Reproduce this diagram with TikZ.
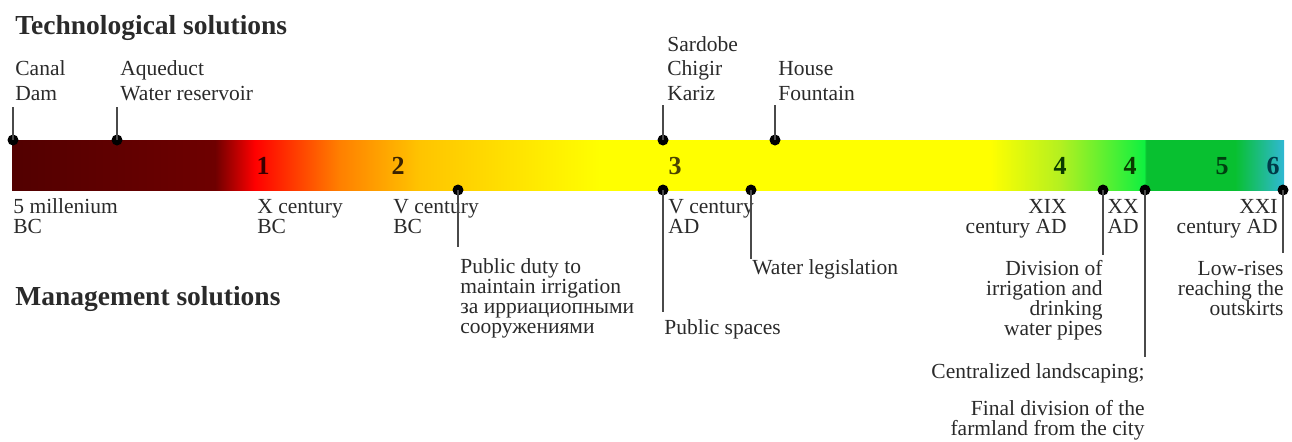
\documentclass[tikz,border=0pt]{standalone}
\usepackage{fontspec}
\setmainfont{Liberation Serif}
\definecolor{txt}{HTML}{2A2A2A}
\definecolor{lin}{HTML}{4A4A4A}
\definecolor{cA}{HTML}{520000}
\definecolor{cB}{HTML}{6E0000}
\definecolor{cC}{HTML}{FF0000}
\definecolor{cD}{HTML}{FF8000}
\definecolor{cE}{HTML}{FFC400}
\definecolor{cF}{HTML}{FFFF00}
\definecolor{cG}{HTML}{B4F020}
\definecolor{cH}{HTML}{10F040}
\definecolor{cI}{HTML}{08C030}
\definecolor{cJ}{HTML}{30B8D4}
\definecolor{n1}{HTML}{3A0000}
\definecolor{n2}{HTML}{3A2200}
\definecolor{n3}{HTML}{4A4200}
\definecolor{n4}{HTML}{0A3A00}
\definecolor{n5}{HTML}{004010}
\definecolor{n6}{HTML}{003A48}
\pgfdeclarehorizontalshading{barshade}{100bp}{color(0bp)=(cA); color(25bp)=(cA); color(32.98bp)=(cB); color(34.55bp)=(cC); color(37.89bp)=(cD); color(41.04bp)=(cE); color(48.11bp)=(cF); color(63.44bp)=(cF); color(66.19bp)=(cG); color(69.50bp)=(cH); color(69.58bp)=(cI); color(73.07bp)=(cI); color(75bp)=(cJ); color(100bp)=(cJ)}
\begin{document}
\begin{tikzpicture}[x=0.5pt,y=-0.5pt,
  hdr/.style={inner sep=0pt, text=txt, font=\fontsize{13.75}{16}\selectfont\bfseries},
  toplbl/.style={inner sep=0pt, text=txt, align=left, font=\fontsize{10.75}{12.2}\selectfont},
  botlbl/.style={inner sep=0pt, text=txt, font=\fontsize{10.75}{10}\selectfont},
  num/.style={inner sep=0pt, font=\fontsize{13}{14}\selectfont\bfseries},
  dot/.style={circle, fill=black, inner sep=0pt, minimum size=5.5pt},
  conn/.style={draw=lin, line width=0.75pt}]
\useasboundingbox (0,0) rectangle (1292,441);
% bar
\shade[shading=barshade] (12,140) rectangle (1284,190);
% numbers
\node[num, text=n1] (b1) at (263,166) {1};
\node[num, text=n2] (b2) at (398,166) {2};
\node[num, text=n3] (b3) at (675,166) {3};
\node[num, text=n4] (b4a) at (1060,166) {4};
\node[num, text=n4] (b4b) at (1130,166) {4};
\node[num, text=n5] (b5) at (1222,166) {5};
\node[num, text=n6] (b6) at (1273,166) {6};
% headers
\node[hdr, anchor=base west] (tech) at (15,34) {Technological solutions};
\node[hdr, anchor=base west] (mgmt) at (15,305) {Management solutions};
% top labels (anchor = baseline of last line)
\node[toplbl, anchor=base west] (canal) at (15,100) {Canal\\Dam};
\node[toplbl, anchor=base west] (aque) at (120,100) {Aqueduct\\Water reservoir};
\node[toplbl, anchor=base west] (sard) at (667,100) {Sardobe\\Chigir\\Kariz};
\node[toplbl, anchor=base west] (house) at (778,100) {House\\Fountain};
% top connectors
\node[dot] (t1) at (13,140) {};
\node[dot] (t2) at (117,140) {};
\node[dot] (t3) at (663,140) {};
\node[dot] (t4) at (775,140) {};
\coordinate (u1) at (13,107);
\coordinate (u2) at (117,107);
\coordinate (u3) at (663,105);
\coordinate (u4) at (775,105);
\draw[conn] (t1.center) -- (u1);
\draw[conn] (t2.center) -- (u2);
\draw[conn] (t3.center) -- (u3);
\draw[conn] (t4.center) -- (u4);
% date labels
\node[botlbl, align=left, anchor=base west] (dt1) at (13,233) {5 millenium\\BC};
\node[botlbl, align=left, anchor=base west] (dt2) at (257,233) {X century\\BC};
\node[botlbl, align=left, anchor=base west] (dt3) at (393,233) {V century\\BC};
\node[botlbl, align=left, anchor=base west] (dt4) at (668,233) {V century\\AD};
\node[botlbl, align=right, anchor=base east] (dt5) at (1067,233) {XIX\\century AD};
\node[botlbl, align=right, anchor=base east] (dt6) at (1139,233) {XX\\AD};
\node[botlbl, align=right, anchor=base east] (dt7) at (1278,233) {XXI\\century AD};
% management labels
\node[botlbl, align=left, anchor=base west] (m1) at (460,333) {Public duty to\\maintain irrigation\\за ирриациопными\\сооружениями};
\node[botlbl, align=left, anchor=base west] (m2) at (752,274) {Water legislation};
\node[botlbl, align=left, anchor=base west] (m3) at (664,334) {Public spaces};
\node[botlbl, align=right, anchor=base east] (m4) at (1103,335) {Division of\\irrigation and\\drinking\\water pipes};
\node[botlbl, align=right, anchor=base east] (m5) at (1145,378) {Centralized landscaping;};
\node[botlbl, align=right, anchor=base east] (m6) at (1145,435) {Final division of the\\farmland from the city};
\node[botlbl, align=right, anchor=base east] (m7) at (1284,315) {Low-rises\\reaching the\\outskirts};
% bottom connectors
\node[dot] (s1) at (458,190) {};
\node[dot] (s2) at (663,190) {};
\node[dot] (s3) at (751,190) {};
\node[dot] (s4) at (1103,190) {};
\node[dot] (s5) at (1145,190) {};
\node[dot] (s6) at (1283,190) {};
\coordinate (v1) at (458,247);
\coordinate (v2) at (663,312);
\coordinate (v3) at (751,259);
\coordinate (v4) at (1103,255);
\coordinate (v5) at (1145,357);
\coordinate (v6) at (1283,253);
\draw[conn] (s1.center) -- (v1);
\draw[conn] (s2.center) -- (v2);
\draw[conn] (s3.center) -- (v3);
\draw[conn] (s4.center) -- (v4);
\draw[conn] (s5.center) -- (v5);
\draw[conn] (s6.center) -- (v6);
\end{tikzpicture}
\end{document}
